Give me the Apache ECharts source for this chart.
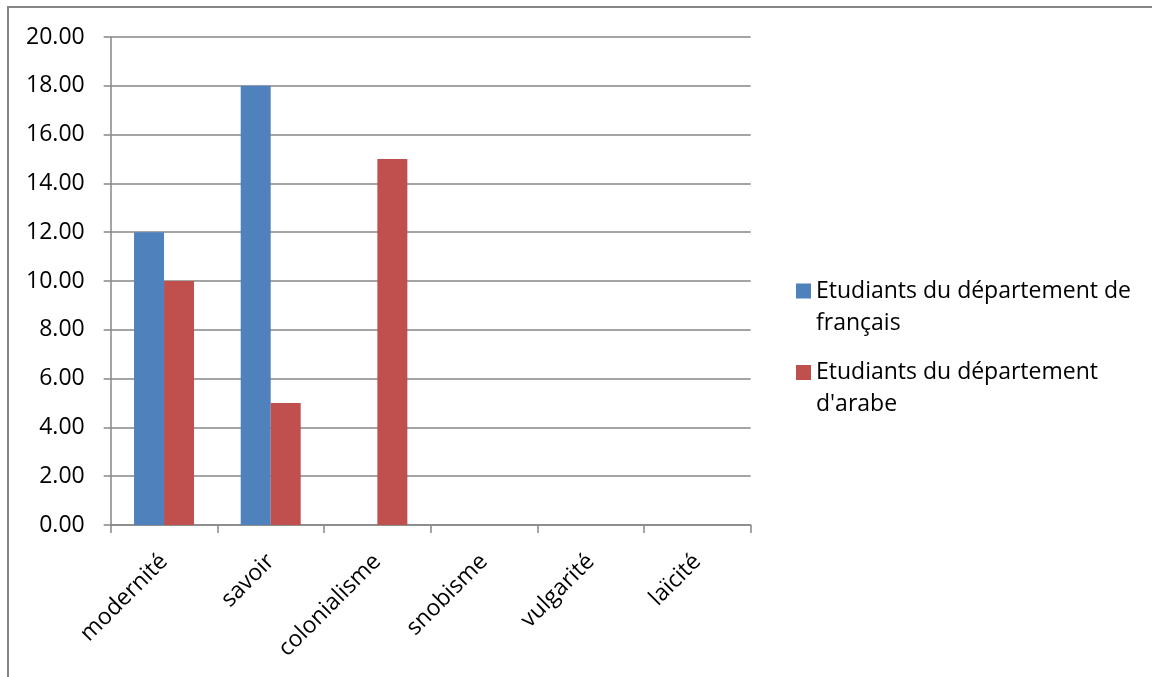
<!DOCTYPE html>
<html>
<head>
<meta charset="utf-8">
<style>
  html, body { margin: 0; padding: 0; background: #fff; }
  #chart { width: 1152px; height: 677px; }
</style>
<script src="https://cdn.jsdelivr.net/npm/echarts@6/dist/echarts.min.js"></script>
</head>
<body>
<div id="chart"></div>
<script>
// Terms and how often each group of students chose them
const categories = ['modernité', 'savoir', 'colonialisme', 'snobisme', 'vulgarité', 'laïcité'];
const seriesNames = ['Etudiants du département de français', "Etudiants du département d'arabe"];
const legendLines = {
  'Etudiants du département de français': ['Etudiants du département de', 'français'],
  "Etudiants du département d'arabe": ['Etudiants du département', "d'arabe"]
};
const francaisValues = [12, 18, 0, 0, 0, 0];
const arabeValues = [10, 5, 15, 0, 0, 0];
const yTicks = { min: 0, max: 20, interval: 2 };

const FONT = 'Open Sans';
const GRID_GRAY = '#868686';
const LINE_H = 32;
const chart = echarts.init(document.getElementById('chart'), null, { renderer: 'canvas' });

chart.setOption({
  backgroundColor: '#ffffff',
  animation: false,
  graphic: [{
    type: 'rect',
    shape: { x: 8, y: 7, width: 2000, height: 2000 },
    style: { fill: 'none', stroke: GRID_GRAY, lineWidth: 2 },
    silent: true
  }],
  grid: { left: 110.7, right: 401.3, top: 37, bottom: 152, containLabel: false },
  legend: {
    orient: 'vertical',
    left: 791,
    top: 238,
    itemWidth: 15,
    itemHeight: 15,
    itemGap: -14.5,
    icon: 'rect',
    data: seriesNames,
    // a blank leading line keeps the swatch level with the first line of text
    formatter: name => '\u00a0\n' + legendLines[name].join('\n'),
    textStyle: {
      fontFamily: FONT,
      fontSize: 23,
      color: '#000',
      lineHeight: LINE_H
    }
  },
  xAxis: {
    type: 'category',
    data: categories,
    boundaryGap: true,
    axisLine: { lineStyle: { color: GRID_GRAY, width: 1.5 } },
    axisTick: { show: true, length: 8, lineStyle: { color: GRID_GRAY, width: 1.5 } },
    axisLabel: {
      rotate: 45,
      margin: 33,
      interval: 0,
      fontFamily: FONT,
      fontSize: 23,
      color: '#000'
    }
  },
  yAxis: {
    type: 'value',
    min: yTicks.min,
    max: yTicks.max,
    interval: yTicks.interval,
    axisLine: { show: true, lineStyle: { color: GRID_GRAY, width: 1.5 } },
    axisTick: { show: true, length: 7, lineStyle: { color: GRID_GRAY, width: 1.5 } },
    splitLine: { show: true, lineStyle: { color: GRID_GRAY, width: 1.5 } },
    axisLabel: {
      margin: 26,
      fontFamily: FONT,
      fontSize: 23,
      color: '#000',
      formatter: v => v.toFixed(2)
    }
  },
  series: [
    {
      name: seriesNames[0],
      type: 'bar',
      data: francaisValues,
      barWidth: 30,
      barGap: '0%',
      itemStyle: { color: '#4F81BD' }
    },
    {
      name: seriesNames[1],
      type: 'bar',
      data: arabeValues,
      barWidth: 30,
      barGap: '0%',
      itemStyle: { color: '#C0504D' }
    }
  ]
});
</script>
</body>
</html>
